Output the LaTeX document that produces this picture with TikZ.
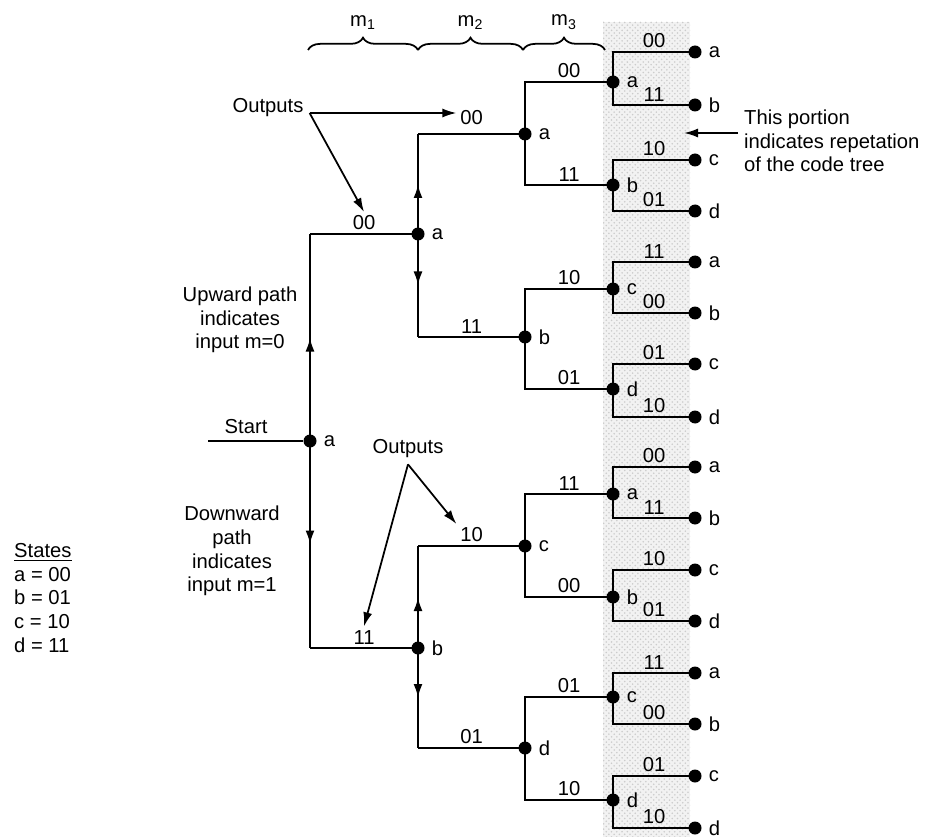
\documentclass[tikz,border=0pt]{standalone}
\usepackage{fontspec}
\setmainfont{Liberation Sans}
\usetikzlibrary{arrows.meta, positioning, calc, patterns, decorations.pathreplacing, decorations.markings}

\tikzset{
  dot/.style={circle, fill, inner sep=0pt, minimum size=2.6mm},
  branch/.style={line width=1.4pt},
  midarrow/.style={postaction={decorate}, decoration={markings,
      mark=at position 0.5 with {\arrow{Latex[length=2.8mm,width=1.8mm]}}}},
  bits/.style={above, inner sep=1.5pt},
  pointer/.style={line width=1pt, -{Latex[length=2.8mm,width=1.8mm]}},
  every label/.style={label distance=0.5pt},
}

\begin{document}
\begin{tikzpicture}[x=0.2mm, y=-0.2mm, font=\fontsize{11.5}{13.5}\selectfont]
  \useasboundingbox (0,0) rectangle (932,837);
  % shaded band: repetition of the tree
  \fill[gray!10] (603,22) rectangle (690,837);
  \fill[pattern=crosshatch dots, pattern color=gray!40] (603,22) rectangle (690,837);

  % braces m1 m2 m3
  \draw[line width=1pt, decorate, decoration={brace, amplitude=7pt}] (308,50) -- (418,50) node[midway, above=8pt] {m\textsubscript{1}};
  \draw[line width=1pt, decorate, decoration={brace, amplitude=7pt}] (418,50) -- (523,50) node[midway, above=8pt] {m\textsubscript{2}};
  \draw[line width=1pt, decorate, decoration={brace, amplitude=7pt}] (523,50) -- (605,50) node[midway, above=8pt] {m\textsubscript{3}};

  % tree nodes
  \node[dot, label=right:a] (r) at (310,441) {};
  \node[dot, label=right:a] (n0) at (418,234) {};
  \node[dot, label=right:b] (n1) at (418,648) {};
  \node[dot, label=right:a] (n00) at (525,134) {};
  \node[dot, label=right:b] (n01) at (525,337) {};
  \node[dot, label=right:c] (n10) at (525,546) {};
  \node[dot, label=right:d] (n11) at (525,748) {};
  \foreach \name/\y/\st in {n000/82/a, n001/185/b, n010/289/c, n011/389/d,
                            n100/494/a, n101/597/b, n110/697/c, n111/800/d}
    \node[dot, label=right:\st] (\name) at (613,\y) {};

  % start
  \coordinate (start) at (208,441);
  \draw[branch] (start) -- (r) node[pos=0.4, above] {Start};

  % first two levels, with arrows on the vertical parts
  \draw[branch, midarrow] (r.center) -- (r.center |- n0.center);
  \draw[branch] (r.center |- n0.center) -- (n0.center) node[bits, midway] (o0) {00};
  \draw[branch, midarrow] (r.center) -- (r.center |- n1.center);
  \draw[branch] (r.center |- n1.center) -- (n1.center) node[bits, midway] (o1) {11};
  \draw[branch, midarrow] (n0.center) -- (n0.center |- n00.center);
  \draw[branch] (n0.center |- n00.center) -- (n00.center) node[bits, midway, yshift=1mm] (o00) {00};
  \draw[branch, midarrow] (n0.center) -- (n0.center |- n01.center);
  \draw[branch] (n0.center |- n01.center) -- (n01.center) node[bits, midway] (o01) {11};
  \draw[branch, midarrow] (n1.center) -- (n1.center |- n10.center);
  \draw[branch] (n1.center |- n10.center) -- (n10.center) node[bits, midway] (o10) {10};
  \draw[branch, midarrow] (n1.center) -- (n1.center |- n11.center);
  \draw[branch] (n1.center |- n11.center) -- (n11.center) node[bits, midway] (o11) {01};

  % third level
  \foreach \p/\c/\o in {n00/n000/00, n00/n001/11, n01/n010/10, n01/n011/01,
                        n10/n100/11, n10/n101/00, n11/n110/01, n11/n111/10}
    \draw[branch] (\p.center) |- (\c.center) node[bits, pos=0.75] {\o};

  % repeated part
  \foreach \p/\i/\y/\o/\st in {n000/0/52/00/a, n000/1/105/11/b, n001/0/160/10/c, n001/1/211/01/d,
                               n010/0/262/11/a, n010/1/313/00/b, n011/0/364/01/c, n011/1/417/10/d,
                               n100/0/467/00/a, n100/1/518/11/b, n101/0/570/10/c, n101/1/621/01/d,
                               n110/0/673/11/a, n110/1/724/00/b, n111/0/776/01/c, n111/1/828/10/d} {
    \node[dot, label=right:\st] (\p\i) at (695,\y) {};
    \draw[branch] (\p.center) |- (\p\i.center) node[bits, pos=0.75] {\o};
  }

  % outputs
  \node (out1) at (268,108) {Outputs};
  \draw[pointer] ([yshift=-1mm]out1.east) -- ([yshift=-1mm]out1.east -| o00.west);
  \draw[pointer] ([yshift=-1mm]out1.east) -- (o0.north);
  \node (out2) at (408,449) {Outputs};
  \draw[pointer] (out2.south) -- (o10.north west);
  \draw[pointer] (out2.south) -- (o1.north);

  % notes
  \node[align=center] (up) at (240,320) {Upward path\\indicates\\input m=0};
  \node[align=center] (down) at (232,551) {Downward\\path\\indicates\\input m=1};
  \node[align=left, anchor=north west] (states) at (8,537) {\underline{States}\\a = 00\\b = 01\\c = 10\\d = 11};
  \node[align=left, anchor=west] (rep) at (738,141) {This portion\\indicates repetation\\of the code tree};
  \coordinate (band) at (684,133);
  \draw[pointer] (rep.west |- band) -- (band);
\end{tikzpicture}
\end{document}
